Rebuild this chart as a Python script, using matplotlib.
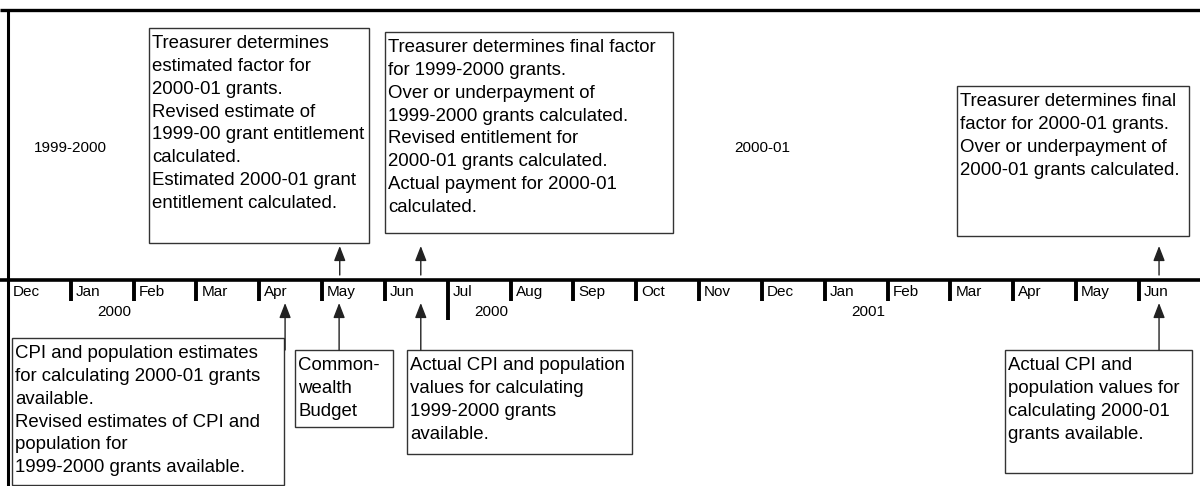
import matplotlib
matplotlib.use("Agg")
import matplotlib.pyplot as plt
from matplotlib.patches import Rectangle

plt.rcParams['font.family'] = ['Liberation Sans', 'DejaVu Sans']

# ---- data ----
months = ['Dec', 'Jan', 'Feb', 'Mar', 'Apr', 'May', 'Jun', 'Jul', 'Aug', 'Sep',
          'Oct', 'Nov', 'Dec', 'Jan', 'Feb', 'Mar', 'Apr', 'May', 'Jun']
year_idx = [1, 7, 13]
year_labels = ['2000', '2000', '2001']
period_idx = [1.0, 12.0]
period_labels = ['1999-2000', '2000-01']

upper_texts = [
    "Treasurer determines\nestimated factor for\n2000-01 grants.\nRevised estimate of\n"
    "1999-00 grant entitlement\ncalculated.\nEstimated 2000-01 grant\nentitlement calculated.",
    "Treasurer determines final factor\nfor 1999-2000 grants.\nOver or underpayment of\n"
    "1999-2000 grants calculated.\nRevised entitlement for\n2000-01 grants calculated.\n"
    "Actual payment for 2000-01\ncalculated.",
    "Treasurer determines final\nfactor for 2000-01 grants.\nOver or underpayment of\n"
    "2000-01 grants calculated.",
]
upper_event_pos = [5.28, 6.57, 18.32]   # month position of each event (arrow)

lower_texts = [
    "CPI and population estimates\nfor calculating 2000-01 grants\navailable.\n"
    "Revised estimates of CPI and\npopulation for\n1999-2000 grants available.",
    "Common-\nwealth\nBudget",
    "Actual CPI and population\nvalues for calculating\n1999-2000 grants\navailable.",
    "Actual CPI and\npopulation values for\ncalculating 2000-01\ngrants available.",
]
lower_event_pos = [4.41, 5.27, 6.57, 18.32]

# ---- layout (month units horizontally, pixels vertically) ----
upper_boxes = [(2.244, 5.746, 28, 243), (6.000, 10.584, 32, 233), (15.104, 18.797, 86, 236)]
lower_boxes = [(0.064, 4.393, 338, 485), (4.568, 6.128, 350, 427),
               (6.350, 9.93, 350, 454), (15.868, 18.844, 350, 473)]

W, H = 1200, 486
fig = plt.figure(figsize=(W / 100, H / 100), dpi=100)
ax = fig.add_axes([0, 0, 1, 1])
px_per_month = 62.83
x0 = -8 / px_per_month
ax.set_xlim(x0, x0 + W / px_per_month)
ax.set_ylim(H, 0)
ax.axis('off')
xr = ax.get_xlim()

AXIS_Y = 280
TOP_Y = 10
ink = '#000000'
edge = '#333333'
SMALL = 11
BOX_FS = 13.4

# frame lines
ax.plot([xr[0], xr[1]], [TOP_Y, TOP_Y], color=ink, lw=2.4, solid_capstyle='butt')
ax.plot([xr[0], xr[1]], [AXIS_Y, AXIS_Y], color=ink, lw=2.6, solid_capstyle='butt')
ax.plot([0, 0], [TOP_Y - 1, H], color=ink, lw=2.2, solid_capstyle='butt')

# month ticks & labels
for i, m in enumerate(months):
    if i > 0:
        bottom = 320 if i == 7 else 301
        ax.plot([i, i], [AXIS_Y, bottom], color=ink, lw=2.8, solid_capstyle='butt')
    ax.text(i + 5 / px_per_month, 292, m, fontsize=SMALL, ha='left', va='center', color=ink)

for idx, lab in zip(year_idx, year_labels):
    ax.text(idx + 0.69, 312, lab, fontsize=SMALL, ha='center', va='center', color=ink)

for idx, lab in zip(period_idx, period_labels):
    ax.text(idx, 148, lab, fontsize=SMALL, ha='center', va='center', color=ink)

def box(l, r, t, b, txt):
    ax.add_patch(Rectangle((l, t), r - l, b - t, fill=False, edgecolor=edge, lw=1.0))
    ax.text(l + 3 / px_per_month, t + 7, txt, fontsize=BOX_FS, ha='left', va='top',
            color=ink, linespacing=1.45)

for (l, r, t, b), txt in zip(upper_boxes, upper_texts):
    box(l, r, t, b, txt)
for (l, r, t, b), txt in zip(lower_boxes, lower_texts):
    box(l, r, t, b, txt)

arrow_kw = dict(arrowstyle='-|>,head_length=0.9,head_width=0.35', color='#222222', lw=1.0,
                shrinkA=0, shrinkB=0)
for x in upper_event_pos:
    ax.annotate('', xy=(x, 246), xytext=(x, 275), arrowprops=arrow_kw)
for x in lower_event_pos:
    ax.annotate('', xy=(x, 303), xytext=(x, 350), arrowprops=arrow_kw)

fig.savefig('out.png', dpi=100)
